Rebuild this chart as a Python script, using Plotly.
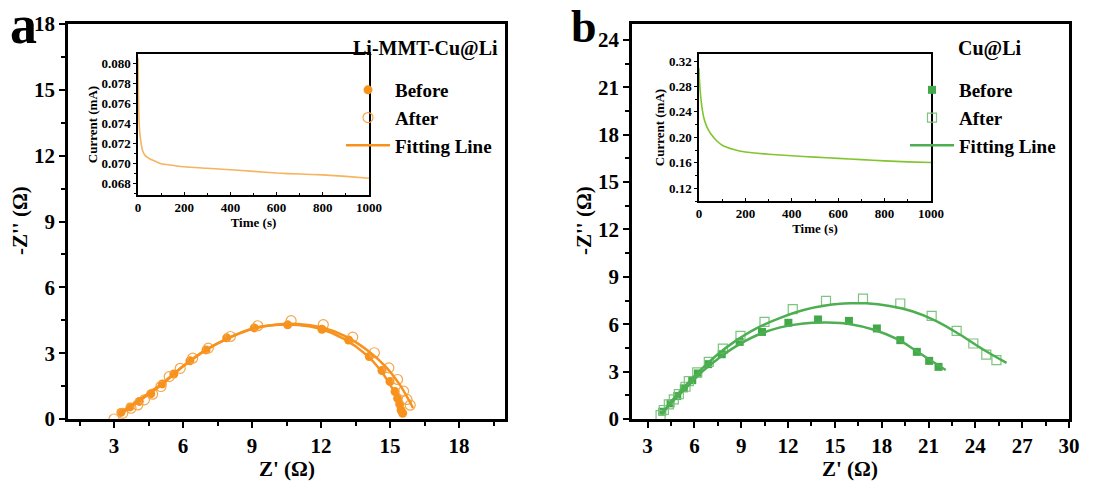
import plotly.graph_objects as go

# ---------------- data ----------------
# Panel a (Li-MMT-Cu@Li)
a_before_x = [3.3, 3.7, 4.1, 4.6, 5.1, 5.6, 6.3, 7.0, 7.9, 9.1, 10.55, 12.04, 13.2, 14.1, 14.65, 15.0, 15.22, 15.33, 15.42, 15.48, 15.55]
a_before_y = [0.3, 0.55, 0.8, 1.15, 1.6, 2.05, 2.65, 3.15, 3.7, 4.15, 4.29, 4.09, 3.6, 2.85, 2.21, 1.71, 1.25, 0.94, 0.68, 0.41, 0.26]
a_after_x = [3.0, 3.38, 3.74, 4.03, 4.32, 4.68, 5.04, 5.4, 5.88, 6.42, 7.1, 8.06, 9.25, 10.7, 12.1, 13.38, 14.32, 14.95, 15.33, 15.59, 15.74, 15.88]
a_after_y = [0.0, 0.26, 0.49, 0.64, 0.87, 1.13, 1.48, 1.93, 2.31, 2.77, 3.23, 3.76, 4.25, 4.48, 4.3, 3.73, 3.02, 2.33, 1.8, 1.27, 0.89, 0.63]
a_fit1_x = [3.3, 4.0, 5.0, 6.0, 7.0, 8.0, 9.0, 10.0, 11.0, 12.0, 13.0, 14.0, 14.6, 15.1, 15.4, 15.6]
a_fit1_y = [0.3, 0.8, 1.55, 2.4, 3.15, 3.7, 4.1, 4.28, 4.28, 4.1, 3.65, 2.9, 2.2, 1.4, 0.8, 0.35]
a_fit2_x = [3.4, 4.0, 5.0, 6.0, 7.0, 8.0, 9.0, 10.0, 11.0, 12.0, 13.0, 14.0, 14.8, 15.4, 15.8, 16.0]
a_fit2_y = [0.3, 0.75, 1.5, 2.4, 3.15, 3.7, 4.12, 4.3, 4.33, 4.18, 3.8, 3.15, 2.4, 1.6, 0.9, 0.5]

# Panel b (Cu@Li)
b_before_x = [3.94, 4.47, 4.9, 5.32, 5.86, 6.22, 6.88, 7.75, 8.9, 10.33, 12.02, 13.92, 15.9, 17.69, 19.19, 20.25, 21.04, 21.64]
b_before_y = [0.46, 0.99, 1.45, 1.94, 2.46, 2.88, 3.47, 4.1, 4.88, 5.51, 6.09, 6.3, 6.21, 5.73, 4.99, 4.25, 3.68, 3.3]
b_after_x = [3.83, 4.04, 4.36, 4.68, 5.0, 5.43, 5.64, 6.18, 6.92, 7.82, 8.95, 10.49, 12.3, 14.43, 16.8, 19.19, 21.2, 22.8, 23.87, 24.7, 25.35]
b_after_y = [0.25, 0.57, 0.93, 1.24, 1.58, 2.04, 2.4, 2.95, 3.62, 4.46, 5.26, 6.15, 6.95, 7.47, 7.62, 7.31, 6.53, 5.58, 4.78, 4.08, 3.73]
b_fit1_x = [3.9, 4.5, 5.5, 6.5, 7.5, 8.5, 10.0, 11.5, 13.0, 14.5, 16.0, 17.5, 19.0, 20.0, 21.0, 22.1]
b_fit1_y = [0.3, 1.0, 2.0, 3.0, 3.8, 4.5, 5.3, 5.8, 6.05, 6.1, 6.0, 5.65, 5.05, 4.45, 3.8, 3.1]
b_fit2_x = [3.9, 4.5, 5.5, 6.5, 7.5, 8.5, 10.0, 11.5, 13.0, 14.5, 16.0, 17.0, 18.5, 20.0, 21.5, 23.0, 24.5, 26.0]
b_fit2_y = [0.3, 1.1, 2.2, 3.2, 4.1, 4.85, 5.75, 6.4, 6.9, 7.2, 7.32, 7.32, 7.15, 6.8, 6.2, 5.35, 4.4, 3.55]

# Insets (current vs time)
ia_t = [0, 2, 5, 10, 15, 20, 30, 40, 50, 75, 100, 150, 200, 300, 400, 500, 600, 700, 800, 900, 1000]
ia_i = [0.0805, 0.0765, 0.0740, 0.0726, 0.0718, 0.0713, 0.07085, 0.07065, 0.07050, 0.07025, 0.0700, 0.06985, 0.0697, 0.06955, 0.0694, 0.06925, 0.06908, 0.06898, 0.0689, 0.06875, 0.06857]
ib_t = [0, 2, 5, 10, 15, 20, 30, 40, 50, 75, 100, 150, 200, 300, 400, 500, 600, 700, 800, 900, 1000]
ib_i = [0.3085, 0.29, 0.274, 0.255, 0.242, 0.232, 0.220, 0.212, 0.206, 0.195, 0.1877, 0.181, 0.177, 0.1735, 0.171, 0.169, 0.167, 0.165, 0.163, 0.1615, 0.1605]

FONT = "Liberation Serif"
ORANGE = "#F7921E"
ORANGE_OPEN = "#F5A64A"
ORANGE_INSET = "#F7B35E"
GREEN = "#43A84A"
GREEN_OPEN = "#7CC47F"
GREEN_FIT = "#4DAF52"
GREEN_INSET = "#82C530"

fig = go.Figure()

# Panel a traces
fig.add_trace(go.Scatter(x=a_before_x, y=a_before_y, mode="markers", name="Before",
                         marker=dict(symbol="circle", size=9, color=ORANGE),
                         xaxis="x", yaxis="y", legend="legend"))
fig.add_trace(go.Scatter(x=a_after_x, y=a_after_y, mode="markers", name="After",
                         marker=dict(symbol="circle-open", size=10, color=ORANGE_OPEN, line=dict(width=1.2)),
                         xaxis="x", yaxis="y", legend="legend"))
fig.add_trace(go.Scatter(x=a_fit1_x, y=a_fit1_y, mode="lines", name="Fitting Line",
                         line=dict(color=ORANGE, width=2.5, shape="spline"),
                         xaxis="x", yaxis="y", legend="legend"))
fig.add_trace(go.Scatter(x=a_fit2_x, y=a_fit2_y, mode="lines", name="Fitting Line", showlegend=False,
                         line=dict(color=ORANGE, width=2.5, shape="spline"),
                         xaxis="x", yaxis="y"))

# Panel b traces
fig.add_trace(go.Scatter(x=b_before_x, y=b_before_y, mode="markers", name="Before",
                         marker=dict(symbol="square", size=8, color=GREEN),
                         xaxis="x2", yaxis="y2", legend="legend2"))
fig.add_trace(go.Scatter(x=b_after_x, y=b_after_y, mode="markers", name="After",
                         marker=dict(symbol="square-open", size=9, color=GREEN_OPEN, line=dict(width=1.2)),
                         xaxis="x2", yaxis="y2", legend="legend2"))
fig.add_trace(go.Scatter(x=b_fit1_x, y=b_fit1_y, mode="lines", name="Fitting Line",
                         line=dict(color=GREEN_FIT, width=2.5, shape="spline"),
                         xaxis="x2", yaxis="y2", legend="legend2"))
fig.add_trace(go.Scatter(x=b_fit2_x, y=b_fit2_y, mode="lines", name="Fitting Line", showlegend=False,
                         line=dict(color=GREEN_FIT, width=2.5, shape="spline"),
                         xaxis="x2", yaxis="y2"))

# Inset traces
fig.add_trace(go.Scatter(x=ia_t, y=ia_i, mode="lines", showlegend=False,
                         line=dict(color=ORANGE_INSET, width=1.6, shape="spline", smoothing=0.6),
                         xaxis="x3", yaxis="y3"))
fig.add_trace(go.Scatter(x=ib_t, y=ib_i, mode="lines", showlegend=False,
                         line=dict(color=GREEN_INSET, width=1.6, shape="spline", smoothing=0.6),
                         xaxis="x4", yaxis="y4"))

W, H = 1118, 482
OFF = 8  # page body margin
def px(v): return (v - OFF) / W
def py(v): return 1 - (v - OFF) / H

main_font = dict(family=FONT, size=21, color="black", weight="bold")
inset_font = dict(family=FONT, size=13, color="black", weight="bold")

def main_axis(domain, rng, dtick, minor_dtick, tick0):
    return dict(domain=domain, range=rng, dtick=dtick, tick0=tick0, showline=True, mirror=True,
                linecolor="black", linewidth=2.5, ticks="outside", ticklen=6, tickwidth=2,
                tickcolor="black", showgrid=False, zeroline=False, tickfont=main_font,
                automargin=False,
                minor=dict(dtick=minor_dtick, tick0=tick0, ticks="outside", ticklen=4, tickwidth=2,
                           tickcolor="black", showgrid=False))

def inset_axis(domain, rng, dtick, minor_dtick, tick0, fmt=None, ticks="outside"):
    d = dict(domain=domain, range=rng, dtick=dtick, tick0=tick0, showline=True, mirror=True,
             linecolor="black", linewidth=1.5, ticks=ticks, ticklen=3, tickwidth=1,
             tickcolor="black", showgrid=False, zeroline=False, tickfont=inset_font,
             automargin=False,
             minor=dict(dtick=minor_dtick, tick0=tick0, ticks=ticks, ticklen=2, tickwidth=1,
                        tickcolor="black", showgrid=False))
    if fmt:
        d["tickformat"] = fmt
    return d

xa = main_axis([px(68), px(505)], [1, 20], 3, 1.5, 0)
ya = main_axis([py(419), py(24)], [0, 18], 3, 1.5, 0)
xb = main_axis([px(632), px(1069)], [2, 30], 3, 1.5, 0)
yb = main_axis([py(419), py(24)], [0, 25], 3, 1.5, 0)
xb["anchor"] = "y2"; yb["anchor"] = "x2"
xa["anchor"] = "y"; ya["anchor"] = "x"

xia = inset_axis([px(138), px(369)], [0, 1000], 200, 100, 0, ticks="inside")
yia = inset_axis([py(195), py(54)], [0.0669, 0.0809], 0.002, 0.001, 0, ".3f")
xib = inset_axis([px(699), px(931)], [0, 1000], 200, 100, 0, ticks="inside")
yib = inset_axis([py(201), py(54)], [0.10, 0.331], 0.04, 0.02, 0, ".2f")
xia["anchor"] = "y3"; yia["anchor"] = "x3"
xib["anchor"] = "y4"; yib["anchor"] = "x4"
xia["title"] = dict(text="Time (s)", font=inset_font, standoff=0)
yia["title"] = dict(text="Current (mA)", font=inset_font, standoff=1)
xib["title"] = dict(text="Time (s)", font=inset_font, standoff=0)
yib["title"] = dict(text="Current (mA)", font=inset_font, standoff=1)

legend_common = dict(font=dict(family=FONT, size=19, color="black", weight="bold"),
                     bgcolor="rgba(0,0,0,0)", borderwidth=0, xanchor="left", yanchor="top",
                     itemwidth=44, tracegroupgap=0)

fig.update_layout(
    width=W, height=H, margin=dict(l=0, r=0, t=0, b=0),
    paper_bgcolor="white", plot_bgcolor="white",
    font=dict(family=FONT, color="black"),
    xaxis=xa, yaxis=ya, xaxis2=xb, yaxis2=yb,
    xaxis3=xia, yaxis3=yia, xaxis4=xib, yaxis4=yib,
    legend=dict(x=px(341), y=py(71), **legend_common),
    legend2=dict(x=px(905), y=py(71), **legend_common),
    showlegend=True,
)

ann_font = dict(family=FONT, size=21, color="black", weight="bold")
def ann(text, x, y, font, angle=0):
    return dict(text=text, x=px(x), y=py(y), xref="paper", yref="paper", showarrow=False,
                xanchor="center", yanchor="middle", font=font, textangle=angle)

title_font = dict(family=FONT, size=20, color="black", weight="bold")
annotations = [
    ann("Z' (Ω)", 287, 469, ann_font),
    ann("Z' (Ω)", 850, 469, ann_font),
    ann("-Z'' (Ω)", 20, 221, ann_font, -90),
    ann("-Z'' (Ω)", 584, 221, ann_font, -90),
    ann("Li-MMT-Cu@Li", 425, 48, title_font),
    ann("Cu@Li", 990, 48, title_font),
    ann("a", 23, 25, dict(family=FONT, size=54, color="black", weight="bold")),
    ann("b", 584, 27, dict(family=FONT, size=46, color="black", weight="bold")),
]
fig.update_layout(annotations=annotations)

fig.write_html("out.html")
